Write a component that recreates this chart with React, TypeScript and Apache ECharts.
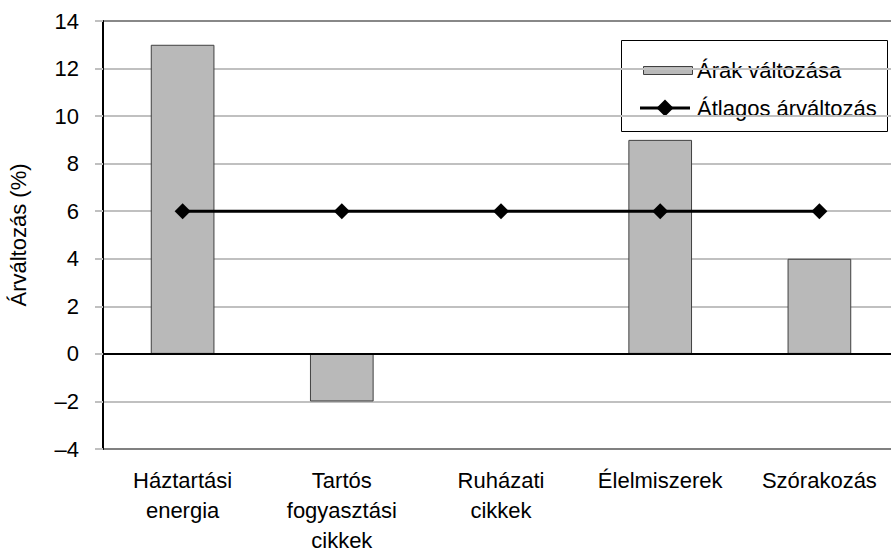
import React, { useEffect, useRef } from "react";
import * as echarts from "echarts";

const categories = [
  "Háztartási\nenergia",
  "Tartós\nfogyasztási\ncikkek",
  "Ruházati\ncikkek",
  "Élelmiszerek",
  "Szórakozás",
];
const priceChange = [13, -2, 0, 9, 4];
const averageChange = [6, 6, 6, 6, 6];
const seriesNames = ["Árak változása", "Átlagos árváltozás"];
const yAxisName = "Árváltozás (%)";

const FONT = "'Liberation Sans', Arial, sans-serif";
const FS = 22;

export default function App() {
  const ref = useRef<HTMLDivElement>(null);
  useEffect(() => {
    if (!ref.current) return;
    const chart = echarts.init(ref.current, undefined, { renderer: "svg" });
    chart.setOption({
      animation: false,
      backgroundColor: "#ffffff",
      textStyle: { fontFamily: FONT },
      grid: {
        left: 103,
        top: 21,
        bottom: 103,
        right: -8,
        containLabel: false,
        outerBoundsMode: "none",
      },
      xAxis: {
        type: "category",
        data: categories,
        axisLine: { show: false, onZero: false },
        axisTick: { show: false },
        splitLine: { show: false },
        axisLabel: {
          interval: 0,
          fontSize: FS,
          lineHeight: 30,
          color: "#000",
          margin: 16,
          fontFamily: FONT,
        },
      },
      yAxis: {
        type: "value",
        min: -4,
        max: 14,
        interval: 2,
        name: yAxisName,
        nameLocation: "middle",
        nameGap: 74,
        nameRotate: 90,
        nameTextStyle: { fontSize: FS, color: "#000", fontFamily: FONT },
        axisLine: { show: true, lineStyle: { color: "#000", width: 2 } },
        axisTick: { show: true, length: 8, lineStyle: { color: "#c0c0c0", width: 2 } },
        axisLabel: {
          fontSize: FS,
          color: "#000",
          margin: 24,
          fontFamily: FONT,
          formatter: (v: number) => String(v).replace("-", "–"),
        },
        splitLine: {
          show: true,
          lineStyle: {
            width: 2,
            color: [
              "#808080",
              "#c0c0c0",
              "#c0c0c0",
              "#c0c0c0",
              "#c0c0c0",
              "#c0c0c0",
              "#c0c0c0",
              "#c0c0c0",
              "#c0c0c0",
              "#888888",
            ],
          },
        },
      },
      series: [
        {
          name: seriesNames[0],
          type: "bar",
          data: priceChange,
          barWidth: "40%",
          itemStyle: { color: "#b9b9b9", borderColor: "#404040", borderWidth: 1 },
          markLine: {
            silent: true,
            symbol: "none",
            label: { show: false },
            lineStyle: { color: "#000", width: 2, type: "solid" },
            data: [{ yAxis: 0 }],
          },
          z: 2,
        },
        {
          name: seriesNames[1],
          type: "line",
          data: averageChange,
          symbol: "diamond",
          symbolSize: 16,
          lineStyle: { color: "#000", width: 3 },
          itemStyle: { color: "#000" },
          z: 5,
        },
      ],
      graphic: [
        {
          type: "group",
          z: 100,
          children: [
            {
              type: "rect",
              shape: { x: 621.5, y: 40.5, width: 266, height: 91 },
              style: { fill: "#fff", stroke: "#000", lineWidth: 1 },
            },
            {
              type: "rect",
              shape: { x: 643.5, y: 66.5, width: 49, height: 8 },
              style: { fill: "#b9b9b9", stroke: "#404040", lineWidth: 1 },
            },
            {
              type: "text",
              x: 697,
              y: 70,
              style: {
                text: seriesNames[0],
                fontSize: FS,
                fontFamily: FONT,
                fill: "#000",
                verticalAlign: "middle",
                align: "left",
              },
            },
            {
              type: "line",
              shape: { x1: 640, y1: 108, x2: 690, y2: 108 },
              style: { stroke: "#000", lineWidth: 3 },
            },
            {
              type: "polygon",
              shape: { points: [[665, 99.5], [673.5, 108], [665, 116.5], [656.5, 108]] },
              style: { fill: "#000" },
            },
            {
              type: "text",
              x: 697,
              y: 108,
              style: {
                text: seriesNames[1],
                fontSize: FS,
                fontFamily: FONT,
                fill: "#000",
                verticalAlign: "middle",
                align: "left",
              },
            },
          ],
        },
      ],
    });
    return () => chart.dispose();
  }, []);
  return (
    <div
      ref={ref}
      style={{ position: "fixed", left: 0, top: 0, width: 891, height: 552, background: "#fff" }}
    />
  );
}
